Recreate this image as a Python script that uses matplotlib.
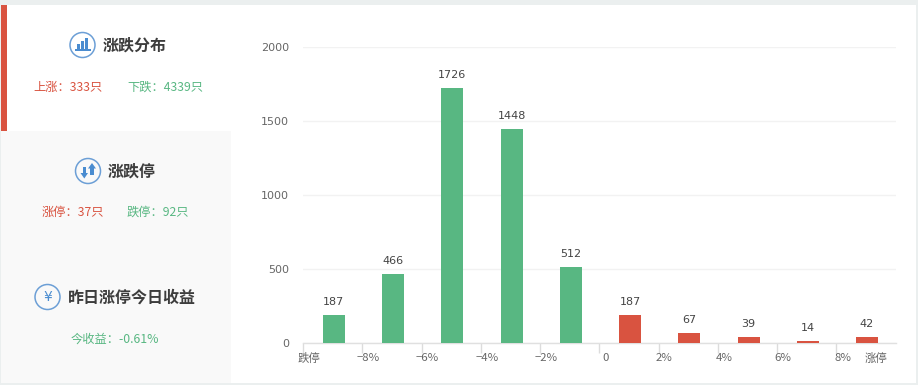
import matplotlib
matplotlib.use('Agg')
import matplotlib.pyplot as plt
from matplotlib.patches import Circle, Rectangle, Polygon

plt.rcParams['font.family'] = ['Noto Sans CJK SC', 'DejaVu Sans']

W, H = 918, 385

counts = [187, 466, 1726, 1448, 512, 187, 67, 39, 14, 42]
bar_colors = ['#58b782'] * 5 + ['#d95340'] * 5
tick_labels = ['跌停', '−8%', '−6%', '−4%', '−2%', '0', '2%', '4%', '6%', '8%', '涨停']
label_nudge = [6, 6, 6, 6, 6, 6, 6, 6, 6, 7, -20]
y_ticks = [0, 500, 1000, 1500, 2000]

RED = '#d95340'
GREEN = '#58b782'
BLUE = '#4a8cd0'
DARK = '#3d3d3d'
GRAY = '#666666'

fig = plt.figure(figsize=(W / 100, H / 100), dpi=100, facecolor='#ebefef')

# page background in pixel coordinates
bg = fig.add_axes([0, 0, 1, 1])
bg.set_xlim(0, W)
bg.set_ylim(H, 0)
bg.axis('off')
bg.add_patch(Rectangle((1, 5), 915, 378, fc='white', ec='none'))
bg.add_patch(Rectangle((1, 131), 230, 252, fc='#f9f9f9', ec='none'))
bg.add_patch(Rectangle((1, 5), 6, 126, fc=RED, ec='none'))

def icon(cx, cy):
    bg.add_patch(Circle((cx, cy), 12.5, fc='none', ec='#6c9fd6', lw=1.1))

def panel_title(x, y, s):
    bg.text(x, y, s, fontsize=11.5, fontweight='bold', color=DARK, ha='left', va='center')

def small(x, y, s, c):
    bg.text(x, y, s, fontsize=8.8, color=c, ha='left', va='center')

# first panel
icon(82.5, 45)
for x, h in [(77.3, 5), (81, 8), (84.7, 11)]:
    bg.add_patch(Rectangle((x, 48.5 - h), 2.8, h, fc=BLUE, ec='none'))
bg.add_patch(Rectangle((75, 49), 16, 1.8, fc=BLUE, ec='none'))
panel_title(103, 46, '涨跌分布')
small(33, 87.5, '上涨：333只', RED)
small(127, 87.5, '下跌：4339只', GREEN)

# second panel, one arrow down and one arrow up
icon(88, 171)
bg.add_patch(Rectangle((82.5, 167), 3.6, 6.5, fc=BLUE, ec='none'))
bg.add_patch(Polygon([(80.5, 173), (88, 173), (84.3, 178.5)], fc=BLUE, ec='none'))
bg.add_patch(Polygon([(88, 168.5), (96, 168.5), (92, 163)], fc=BLUE, ec='none'))
bg.add_patch(Rectangle((90.2, 168), 3.6, 7, fc=BLUE, ec='none'))
panel_title(108, 172, '涨跌停')
small(42, 212.5, '涨停：37只', RED)
small(127, 212.5, '跌停：92只', GREEN)

# third panel
icon(47.5, 297)
bg.text(47.5, 297, '¥', fontsize=10, color=BLUE, ha='center', va='center', family='DejaVu Sans')
panel_title(68, 298, '昨日涨停今日收益')
small(71, 339.5, '今收益：-0.61%', GREEN)

# bar chart
ax = fig.add_axes([303 / W, 1 - 343 / H, (895.5 - 303) / W, (343 - 47) / H])
ax.patch.set_alpha(0)
xs = [i + 0.52 for i in range(len(counts))]
ax.bar(xs, counts, width=0.372, color=bar_colors, zorder=3)
for x, v in zip(xs, counts):
    ax.annotate(str(v), (x, v), xytext=(0, 8), textcoords='offset pixels',
                ha='center', va='bottom', fontsize=8, color='#444444', family='DejaVu Sans')

ax.set_xlim(0, 10)
ax.set_ylim(0, 2000)
ax.set_yticks(y_ticks)
ax.set_yticklabels([str(v) for v in y_ticks], family='DejaVu Sans')
ax.set_xticks(range(10))
ax.set_xticklabels([])
ax.grid(axis='y', color='#f2f2f2', lw=1, zorder=0)
for s in ['top', 'right', 'left']:
    ax.spines[s].set_visible(False)
ax.spines['bottom'].set_color('#e0e0e0')
ax.spines['bottom'].set_linewidth(1)
ax.tick_params(axis='y', length=0, pad=10, labelsize=8, labelcolor=GRAY)
ax.tick_params(axis='x', length=7, width=1, color='#dcdcdc')
for i, lab in enumerate(tick_labels):
    ax.annotate(lab, (i, 0), xytext=(label_nudge[i], -15), textcoords='offset pixels',
                ha='center', va='center', fontsize=8.2, color=GRAY, annotation_clip=False)

fig.savefig('out.png', dpi=100, facecolor=fig.get_facecolor())
